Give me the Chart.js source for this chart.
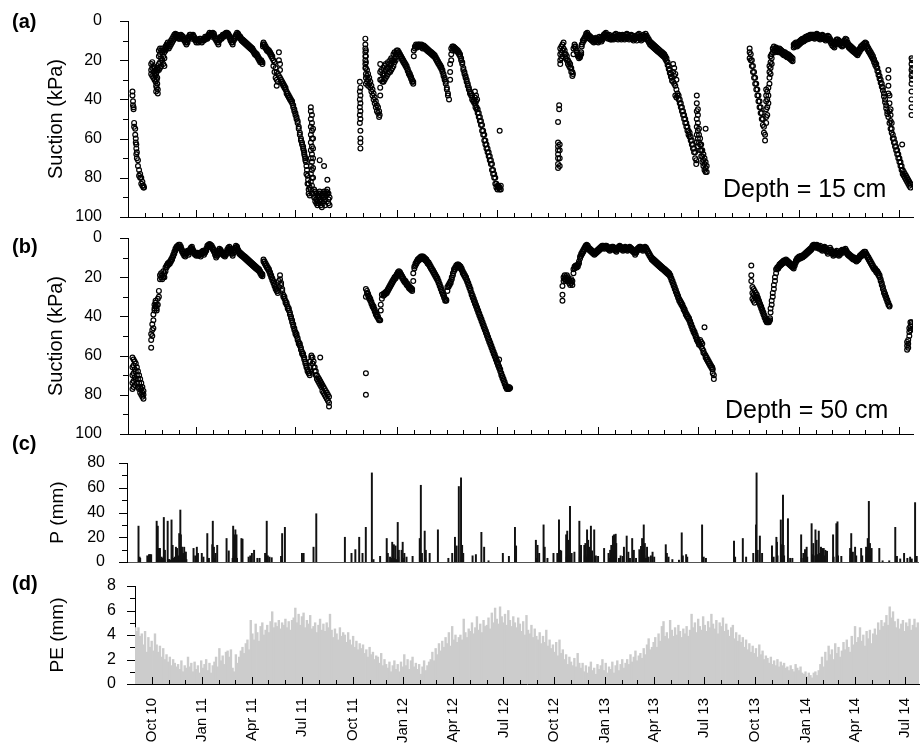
<!DOCTYPE html>
<html>
<head>
<meta charset="utf-8">
<script src="https://cdn.jsdelivr.net/npm/chart.js@4.4.1/dist/chart.umd.min.js"></script>
<style>
  body { margin: 0; background: #fff; }
  #wrap { position: relative; width: 920px; height: 743px; }
  #wrap canvas { position: absolute; left: 0; top: 0; }
</style>
</head>
<body>
<div id="wrap">
  <canvas id="panelA" width="920" height="743"></canvas>
  <canvas id="panelB" width="920" height="743"></canvas>
  <canvas id="panelC" width="920" height="743"></canvas>
  <canvas id="panelD" width="920" height="743"></canvas>
</div>
<script>
// x values are days counted from 1 Jan 2010

// suction at 15 cm, kPa: [day, reading, reading, ...]
const depth15 = [
  [250,36,38],[251,41,43],[252,44,45],[253,52,54],[255,55,58],[256,60,62],[257,63,65,68],[258,67,70],[260,71,74],[262,76,79],[264,78,80],[266,80,83],[268,82,84],[270,84,85],[271,85],
  [284,22,25,27],[286,21,24,28],[288,23,26,29],[290,24,27,30],[292,25,28,31],[293,27,33,36],[294,26,30,34],[295,25,29,32],[296,24,35,37],
  [298,15,18,22,25],[300,14,17,21,24],[302,15,19,23],[304,14,16,20],[306,15,18,22],[308,16,19,23],[310,13,15],[312,12,14],[314,11,13],[316,12,14],[318,11,13],[320,10,12],[322,9,11],[324,8,10],[326,7,9],[328,6.5,7.5],[330,7,8],[332,7,8],[334,8,9],[336,8,9],[338,7,8],[340,7.5,9],[342,8,9],[344,9,10],[346,10,11],[348,11,12],[350,10,11],[352,8,9],[354,7,8],[356,7,8],[358,8,9],[360,7,7.5],[362,8,9],[364,9,10],[366,10,11],[368,9.5,10],[370,10,11],[372,9,10],[374,9,10],[376,10,11],[378,9.5,10],[380,9,10],[382,8,9],[384,8,9],[386,8,9],[388,7,8],[390,6,7],[392,6.5,7.5],[394,7,8],[396,6,7],[398,6.5,7.5],[400,8,9],[402,9,10],[404,10,11],[406,11,12],[408,9,10],[410,8,9],[412,8,9],[414,7,8],[416,7,8],[418,6.5,7.5],[420,6,7],[422,6,7],[424,6.5,7.5],[426,7.5,8.5],[428,9,10],[430,10,11],[432,11,12],[434,9,10],[436,8,9],[438,7,8],[440,6,7],[442,6.5,7.5],[444,7.5,8.5],[446,8,9],[448,9,10],[450,9.5,10.5],[452,10,11],[454,10.5,11.5],[456,11,12],[458,11.5,12.5],[460,12,13],[462,12.5,13.5],[464,13,14],[466,13.5,14.5],[468,14,15],[470,15,16],[472,16,17],[474,16.5,17.5],[476,17,18],[478,18,19],[480,19,20],[482,20,21],[484,20,21],[486,21,22],
  [487,12,13],[488,11,12],[490,12,13],[492,13,14],[494,14,15],[496,14.5,15.5],[498,15,16],[500,16,17],[502,17,18],[504,18,19],[506,20,23],[508,21,26],[510,24,29],[512,26,30,33],[514,27,31],[516,28,16,20],[518,29,22,25],[520,30,31],[522,31,32],[524,32,33],[526,33,34],[528,34,35],[530,36,37],[532,37,38],[534,38,39],[536,39,40],[538,40,41],[540,41,42],[542,43,44],[544,45,46],[546,47,48],[548,49,50],[550,51,52],[552,54,55],[554,57,58],[556,60,61],[558,62,63],[560,64,65],[561,66],[562,67,68],[563,69],[564,70,71],[565,72],[566,74,78],[567,76],[568,79,83],[569,81],[570,83,86,88],[572,85,89],
  [574,44,46,50,54,58,62,66,70,74,78,82,86],[576,48,52,56,60,64,68,72,76,80,84,88],[578,55,60,65,70,75,80],
  [580,86,88,90],[582,87,90,92],[584,88,91,93],[586,89,92,94],[588,88,90,93],[590,87,89,92,71],[592,88,91,94],[594,89,92,95],[596,88,90,93],[598,87,90,92,74],[600,88,91,94],[602,87,89],[604,86,88,81],[606,88,91,93],[608,90,94],
  [663,31,36,40,44,48,52],[664,34,38,42,46,50,56,60,62,65],
  [673,9,12,14,16,18,20,22,24],[674,15,18,21,24,27,29,32],
  [676,25,28,31],[678,27,30,33],[680,29,32],[682,31,34],[684,33,36],[686,35,38],[688,37,40],[690,39,42],[692,41,44],[694,43,46],[696,44,47],[698,46,49],[699,48],
  [700,22,26,30,34,38],[702,25,30],[704,27,31],[706,24,28,31],[708,23,27,30],[710,22,25,29],[712,24,28],[714,21,24,27],[716,22,26],[718,20,23,26],[720,19,22,25],[722,20,24],[724,17,20,23],[726,16,19,21],[728,17,20],[730,15,17],[732,15,16],[734,16,17],
  [736,17,18],[738,18,19],[740,19,20],[742,20,21],[744,21,22],[746,22,23],[748,23,24],[750,24.5,25.5],[752,26,27],[754,27,28],[756,28.5,29.5],[758,30,31],[760,31,32],
  [761,18,15],[763,14,13],[765,13,12],[767,12.5,13.5],[769,12,13],[771,12,13],[773,12.5,13],[775,12,13],[777,13,14],[779,12.5,13.5],[781,13,14],[783,13.5,14.5],[785,14,15],[787,14.5,15.5],[789,15,16],[791,15.5,16.5],[793,16,17],[795,16.5,17.5],[797,17,18],[799,17.5,18.5],[801,18.5,19.5],[803,19.5,20.5],[805,20.5,21.5],[807,21.5,22.5],[809,22.5,23.5],[811,23.5,24.5],[813,25,26],[815,27,28],[817,29,30],[819,31,32],[821,34,35],[823,37,38],[825,40],
  [827,30,26,22],[829,20,17,14],[831,13,15],[833,13,14],[835,13.5,14.5],[837,14,15],[839,14.5,15.5],[841,15,16],[843,16,17],[845,17,18],[847,19,20],[849,21,22],[851,24,25],[853,26,27],[855,28,29],[857,30,31],[859,32,33],[861,34,35],[863,36,37],[865,37,38],[867,38,40],[869,40,41],[871,41,42],[872,36,39],[873,42,44],[874,38,41],[875,44,45],[876,40],[877,45,47],[879,47,49],[881,49,51],[883,51,53],[885,53,56],[887,56,58],[889,58,61],[891,61,63],[893,63,65],[895,65,67],[897,67,69],[899,69,71],[901,71,73],[903,73,76],[905,76,78],[907,78,80],[909,80,83],[911,83,85],[913,84,86],[915,84,85],[917,85,86,56],[919,84,86],
  [1023,51.5,62,64,66,68,70,73,75],[1025,43,45],[1026,63,66,70,74],
  [1027,14,17,20,22],[1029,13,16,19],[1031,12,15,18],[1033,11,14],[1035,15,17],[1037,17,19],[1039,18,20],[1041,20,22],[1043,21,23],[1045,22,24],[1047,24,26],[1049,26,28],[1050,27],
  [1051,17,14],[1053,13,12],[1055,13,14],[1057,15,16],[1059,17,18],[1061,18,19],[1063,18.5,17.5],[1065,17,16],[1066,12,13],[1068,10,11],[1070,9,10],[1072,8,9],[1074,6.5,7.5],[1076,6,7],
  [1078,7,8.5],[1080,7.5,9],[1082,8,9.5],[1084,8.5,10],[1086,9,10.5],[1088,9.5,11],[1090,9,10.5],[1092,8.5,10],[1094,9,10.5],[1096,9.5,11],[1098,8,9.5],[1100,8.5,10],[1102,9,10.5],[1104,8,9.5],[1106,7,8.5],[1108,6.5,8],[1110,6,7.5],[1112,7,8.5],[1114,7.5,9],[1116,7,8.5],[1118,8,9.5],[1120,8,9.5],[1122,7.5,9],[1124,8,9.5],[1126,7,8.5],[1128,6.5,8],[1130,7.5,9],[1132,8,9.5],[1134,7,8.5],[1136,7.5,9],[1138,8,9.5],[1140,7,8.5],[1142,7.5,9],[1144,8,9.5],[1146,7,8.5],[1148,6.5,8],[1150,7,8.5],[1152,8,9.5],[1154,7.5,9],[1156,7,8.5],[1158,7.5,9],[1160,8.5,10],[1162,8,9.5],[1164,7.5,9],[1166,8.5,10],[1168,7,8.5],[1170,6.5,8],[1172,7.5,9],[1174,8.5,10],[1176,8,9.5],[1178,7,8.5],[1180,7.5,9],[1182,6.5,8],[1184,7.5,9],[1186,8.5,10],[1188,9.5,11],[1190,10.5,12],[1192,11,12.5],[1194,11.5,13],[1196,12,13.5],[1198,12.5,14],[1200,13,14.5],[1202,13.5,15],[1204,14,15.5],[1206,14.5,16],
  [1208,15,16.5],[1210,15.5,17],[1212,16,17.5],[1214,16.5,18],[1216,17,18.5],[1218,18,19.5],[1220,19,20.5],[1222,21,22.5],[1224,23,24.5],[1226,25,26.5],[1228,27,28.5],[1230,29,30.5],[1232,31,22,26],[1234,32,24,28],[1236,33,27,38],[1238,35,30,39],
  [1240,37,38],[1242,38,40],[1244,40,42],[1246,42,44],[1248,44,46],[1250,46,48],[1252,48,50],[1254,50,52],[1256,52,54],[1258,54,56],[1260,56,58],[1262,57,59],[1264,59,61],[1266,61,63],[1268,63,65],[1270,65,67],[1272,67,70],[1274,71,73],
  [1275,38,42,46,50,54,58,62],[1277,45,48,52,56,60,64],[1279,55,58,62],[1281,60,63,66],[1283,63,66,69],[1285,66,69,72],[1287,68,71,74],[1289,70,73,76],[1291,72,75,77,55],[1293,74,77],
  [1371,14,16,19],[1373,17,20],[1375,20,23],[1377,23,26],[1379,26,29],[1381,29,32],[1383,32,35],[1385,35,38],[1387,38,41],[1389,41,44],[1391,44,47],[1393,47,50],[1395,50,53],[1397,54,57],[1399,58,61],
  [1401,35,38,41,45,49,52],[1403,36,40,44,48],[1405,34,38,42],
  [1407,32,29,26,23],[1409,27,24,21,18],[1411,22,19,17],[1413,16,14],[1415,13,15],[1417,14,16],[1419,13.5,15],[1421,14,15.5],[1423,14.5,16],[1425,14,15.5],[1427,14.5,16],[1429,15,16.5],[1431,15.5,17],[1433,16,17.5],[1435,16,17.5],[1437,16.5,18],[1439,17,18.5],[1441,17,18.5],[1443,17.5,19],[1445,18,19.5],[1447,18.5,20],[1449,19,20.5],
  [1451,12,13.5],[1453,11.5,13],[1455,11,12.5],[1457,11.5,13],[1459,11,12.5],[1461,10.5,12],[1463,10,11.5],[1465,9.5,11],[1467,9,10.5],[1469,9,10.5],[1471,8.5,10],[1473,8,9.5],[1475,8,9.5],[1477,7.5,9],[1479,7.5,9],[1481,7,8.5],[1483,7,8.5],[1485,7,8.5],[1487,7,8.5],[1489,7.5,9],[1491,7,8.5],[1493,6.5,8],[1495,7,8.5],[1497,7.5,9],[1499,8,9.5],[1501,7.5,9],[1503,7,8.5],[1505,7.5,9],[1507,8,9.5],[1509,8.5,10],[1511,8,9.5],[1513,7.5,9],[1515,8,9.5],[1517,9,10.5],[1519,10,11.5],[1521,11,12.5],[1523,11.5,13],[1525,12,13.5],[1527,10.5,12],[1529,9.5,11],[1531,9.5,11],[1533,10,11.5],[1535,10.5,12],[1537,11,12.5],[1539,11.5,13],[1541,11,12.5],[1543,10,11.5],[1545,9,10.5],[1547,9.5,11],[1549,11,12.5],[1551,12,13.5],[1553,12.5,14],[1555,13,14.5],[1557,13.5,15],[1559,14,15.5],[1561,14.5,16],[1563,15,16.5],[1565,15.5,17],[1567,16,17.5],[1569,15,16.5],[1571,14,15.5],[1573,13,14.5],[1575,12.5,14],[1577,12,13.5],[1579,11.5,13],[1581,11,12.5],[1583,11.5,13],[1585,13,14.5],[1587,14,15.5],[1589,15,16.5],[1591,16,17.5],[1593,17,18.5],[1595,18,19.5],[1597,19.5,21],[1599,21,22.5],[1601,22,23.5],[1603,24,25.5],[1605,26,27.5],[1607,28,29.5],[1609,30,31.5],[1611,32,33.5],[1613,34,35.5],[1615,37,38.5],[1617,40,41.5],[1619,43,44.5],[1621,46,47.5],
  [1623,49,25,29,33,37],[1625,52,38,42,46],[1627,55,45,48,51],[1629,57,52,55],[1631,58,60],[1633,60,62],[1635,62,64],[1637,64,66],[1639,66,68],[1641,68,70],[1643,70,72],[1645,72,74],[1647,74,76],[1648,63],[1649,76,78],[1651,77,79],[1653,78,80],[1655,79,81],[1657,80,82],[1659,81,83],[1661,82,84],[1663,83,85],
  [1665,19,22,25,28,32,36,40,44,48],[1666,20,24,27,30]
];

// suction at 50 cm, kPa: [day, reading, reading, ...]
const depth50 = [
  [250,61,66,70,74,77],[252,62,65,69,73,76],[254,63,67,71,75],[256,64,68,72],[258,66,70,74],[260,68,72,76],[262,70,74,77],[264,72,76,79],[266,74,77,80],[268,76,79,81],[270,78,80,82],
  [284,56,52,49],[286,50,47,44],[288,46,42,39],[290,37,34,36],[292,33,35,32],[294,34,36,37],[296,31,34],[298,27,30],[300,19,21],[302,18,20],[304,19,21],[306,17,20],[308,18,20],[310,15,17],[312,14,15],[314,13,14],[316,12.5,13.5],[318,12,13],[320,11,12],[322,10,11],[324,8.5,9.5],[326,7,8],[328,5.5,6.5],[330,4.5,5.5],[332,4,5],[334,3.5,4.5],[336,3.5,4.5],[338,4.5,5.5],[340,6,7],[342,7,8],[344,8,9],[346,8.5,9.5],[348,7,8],[350,6.5,7.5],[352,7.5,8.5],[354,6,7],[356,5,6],[358,4.5,5.5],[360,6,7],[362,7,8],[364,7.5,8.5],[366,8,9],[368,7.5,8.5],[370,8,9],[372,7.5,8.5],[374,8.5,9.5],[376,7,8],[378,6.5,7.5],[380,7.5,8.5],[382,6.5,7.5],[384,5.5,6.5],[386,4,5],[388,3.5,4.5],[390,3,4],[392,3.5,4.5],[394,4,5],[396,5,6],[398,6,7],[400,7.5,8.5],[402,9,10],[404,8,9],[406,6.5,7.5],[408,5.5,6.5],[410,6,7],[412,7,8],[414,7.5,8.5],[416,8,9],[418,8.5,9.5],[420,7.5,8.5],[422,6,7],[424,5,6],[426,4.5,5.5],[428,5.5,6.5],[430,7,8],[432,8,9],[434,6.5,7.5],[436,5,6],[438,4,5],[440,4.5,5.5],[442,6,7],[444,7,8],[446,7.5,8.5],[448,8,9],[450,8.5,9.5],[452,9,10],[454,9.5,10.5],[456,10,11],[458,10.5,11.5],[460,11,12],[462,11.5,12.5],[464,12,13],[466,12.5,13.5],[468,13,14],[470,13.5,14.5],[472,14,15],[474,14.5,15.5],[476,15,16],[478,15.5,16.5],[480,16,17],[482,17,18],[484,18,19],[486,18.5,19.5],
  [488,11,12],[490,12,13],[492,13,14],[494,14,15],[496,15,16],[498,16,17],[500,17.5,18.5],[502,19,20],[504,20.5,21.5],[506,22,23],[508,23.5,24.5],[510,25,26],[512,26,27],[514,27,28],[516,22,25],[518,19,21],[520,23,24],[522,26,27],[524,29,30],[526,30,31],[528,32,33],[530,33,34],[532,35,36],[534,36,37],[536,38,39],[538,40,41],[540,42,43],[542,44,45],[544,46,47],[546,48,49],[548,49,50],[550,51,52],[552,53,54],[554,54,55],[556,56,57],[558,58,59],[560,59,60],[562,61,62],[564,63,64],[566,65,66],[568,67,68],[570,68,69],[572,69,70],[573,66,63],[575,61,60],[577,61,64],[579,63,66],[581,66,68],[583,68,70],[585,70,72],[587,71,73],[589,72,74],[591,73,75,61],[593,74,76],[595,75,78],[597,76,79],[599,77,80],[601,78,81],[603,79,82],[605,80,83],[607,81,84,86],
  [674,26,30,69,80],[676,27,28],[678,28.5,29.5],[680,30,31],[682,31,32],[684,32.5,33.5],[686,34,35],[688,35,36],[690,36.5,37.5],[692,38,39],[694,39,40],[696,40,41],[698,41.5,42],[700,42],[701,37,34],[703,31,29],[706,28.5,29.5],[708,28,29],[710,27.5,28.5],[712,27,28],[714,26,27],[716,25,26],[718,24,25],[720,23,24],[722,22,23],[724,21,22],[726,20,21],[728,19.5,20.5],[730,18.5,19.5],[732,17.5,18.5],[734,17,18],[736,17.5,18.5],[738,18.5,19.5],[740,19.5,20.5],[742,20.5,21.5],[744,21.5,22.5],[746,22,23],[748,23,24],[750,23.5,24.5],[752,24.5,25.5],[754,25,26],[756,25.5,26.5],[758,26,27],
  [760,22,18],[762,14.5,15.5],[764,13,14],[766,12,13],[768,11,12],[770,10.5,11.5],[772,10,11],[774,9.5,10.5],[776,9.5,10.5],[778,9.5,10.5],[780,10,11],[782,10.5,11.5],[784,11,12],[786,12,13],[788,12.5,13.5],[790,13.5,14.5],[792,14.5,15.5],[794,15.5,16.5],[796,16.5,17.5],[798,17.5,18.5],[800,18.5,19.5],[802,19.5,20.5],[804,20.5,21.5],[806,22,23],[808,23.5,24.5],[810,25,26],[812,26.5,27.5],[814,28,29],[816,29.5,30.5],[818,31,32],[820,31.5,32],
  [822,27,25],[824,24,25],[826,23,24],[828,22,23],[830,20,21],[832,18,19],[834,16,17],[836,15,16],[838,14,15],[840,13.5,14.5],[842,13.5,14.5],[844,14,15],[846,14.5,15.5],[848,15.5,16.5],[850,17,18],[852,18,19],[854,19,20],[856,20,21],[858,21.5,22.5],[860,23,24],[862,24.5,25.5],[864,26,27],[866,28,29],[868,29.5,30.5],[870,31,32],[872,32.5,33.5],[874,34,35],[876,35.5,36.5],[878,37,38],[880,38.5,39.5],[882,40,41],[884,41.5,42.5],[886,43,44],[888,44.5,45.5],[890,46,47],[892,47.5,48.5],[894,49,50],[896,50.5,51.5],[898,52,53],[900,53.5,54.5],[902,55,56],[904,56.5,57.5],[906,58,59],[908,59.5,60.5],[910,61,62],[912,62.5,63.5],[914,64,65],[916,65.5,66.5,62],[918,67,68],[920,69,70],[922,70.5,71.5],[924,72,73],[926,73.5,74.5],[928,75,76],[930,76,77],[932,76.5,77],[934,77,76],[936,76.5],
  [1031,29,32,24.5],[1033,22,20],[1035,19,21],[1037,20,22],[1039,19,21],[1041,20,22],[1043,21,23],[1045,22,24],[1047,21,23],[1049,22,24],[1051,16,18],[1053,14.5,15.5],[1055,14,15],[1057,14,15],[1059,13.5,14.5],[1061,12,13],[1063,9.5,10.5],[1065,8,9],[1067,7,8],[1069,6,7],[1071,5,6],[1073,4,5],[1075,3.5,4.5],
  [1077,4,5],[1079,5,6],[1081,5.5,6.5],[1083,6,7],[1085,6.5,7.5],[1087,7,8],[1089,7.5,8.5],[1091,7,8],[1093,6.5,7.5],[1095,6,7],[1097,5.5,6.5],[1099,5,6],[1101,4.5,5.5],[1103,4,5],[1105,4,5],[1107,4.5,5.5],[1109,4,5],[1111,4,5],[1113,4.5,5.5],[1115,5,6],[1117,5.5,6.5],[1119,5,6],[1121,4.5,5.5],[1123,4.5,5.5],[1125,5,6],[1127,5.5,6.5],[1129,6,7],[1131,5,6],[1133,4.5,5.5],[1135,4,5],[1137,4.5,5.5],[1139,5,6],[1141,5.5,6.5],[1143,5,6],[1145,4.5,5.5],[1147,5,6],[1149,5.5,6.5],[1151,5,6],[1153,4.5,5.5],[1155,5,6],[1157,5.5,6.5],[1159,6,7],[1161,6.5,7.5],[1163,7.5,8.5],[1165,6.5,7.5],[1167,5.5,6.5],[1169,5,6],[1171,4.5,5.5],[1173,4.5,5.5],[1175,5,6],[1177,5.5,6.5],[1179,5,6],[1181,4.5,5.5],[1183,5,6],
  [1185,6,7],[1187,7,8],[1189,8,9],[1191,9,10],[1193,10,11],[1195,10.5,11.5],[1197,11,12],[1199,11.5,12.5],[1201,12,13],[1203,12.5,13.5],[1205,13,14],[1207,13.5,14.5],[1209,14,15],[1211,14.5,15.5],[1213,15,16],[1215,15.5,16.5],[1217,16,17],[1219,16.5,17.5],[1221,17,18],[1223,17.5,18.5],[1225,18,19],[1227,19,20],[1229,20.5,21.5],[1231,22,23],[1233,23.5,24.5],[1235,25,26],[1237,26.5,27.5],[1239,28,29],[1241,29.5,30.5],[1243,31,32],[1245,32,33],[1247,33,34],[1249,34,35],[1251,35.5,36.5],[1253,36.5,37.5],[1255,38,39],[1257,39,40],[1259,40,41],[1261,41,42],[1263,42.5,43.5],[1265,44,45],[1267,45.5,46.5],[1269,47,48],[1271,48,49],[1273,49.5,50.5],[1275,51,52],[1277,52,53],[1279,53.5,54.5],[1281,54.5,52],[1283,55.5,53],[1285,56.5,54],[1287,57.5,58.5],[1289,59,45.5],[1291,60,61],[1293,61,62],[1295,62,63],[1297,63,64],[1299,64,65],[1301,65,66],[1303,66,67],[1304,67,69],[1306,70,72],
  [1374,14,19,22],[1376,25,28,31],[1378,26,29,32],[1380,27,30,33],[1382,28,31],[1384,29,30],[1386,30.5,31.5],[1388,32,33],[1390,33.5,34.5],[1392,35,36],[1394,36.5,37.5],[1396,38,39],[1398,39.5,40.5],[1400,41,42],[1402,42,43],[1404,43,42],[1406,42.5,43],[1408,41,42],[1409,38,36],[1411,34,32],[1413,30,28],[1415,26,24],[1417,22,20],[1419,18,16],[1421,15,16],
  [1423,14.5,15.5],[1425,13.5,14.5],[1427,13,14],[1429,12.5,13.5],[1431,12,13],[1433,11.5,12.5],[1435,11.5,12.5],[1437,11,12],[1439,11.5,12.5],[1441,12,13],[1443,12.5,13.5],[1445,13,14],[1447,13.5,14.5],[1449,14,15],[1451,14.5,15.5],[1453,13,14],[1455,11.5,12.5],[1457,10.5,11.5],[1459,10,11],[1461,9.5,10.5],[1463,9.5,10.5],[1465,9,10],[1467,9,10],[1469,8.5,9.5],[1471,8,9],[1473,7.5,8.5],[1475,7,8],[1477,6.5,7.5],[1479,6,7],[1481,5.5,6.5],[1483,5,6],[1485,4,5],[1487,3.5,4.5],[1489,3.5,4.5],[1491,4,5],[1493,3.5,4.5],[1495,4,5],[1497,4.5,5.5],[1499,4,5],[1501,5,6],[1503,5.5,6.5],[1505,5,6],[1507,4.5,5.5],[1509,5,6],[1511,6,7],[1513,7,8],[1515,6,7],[1517,5,6],[1519,6,7],[1521,7,8],[1523,8,9],[1525,7.5,8.5],[1527,7,8],[1529,6.5,7.5],[1531,7.5,8.5],[1533,8,9],[1535,7.5,8.5],[1537,6.5,7.5],[1539,6,7],[1541,6.5,7.5],[1543,6,7],[1545,5.5,6.5],[1547,6.5,7.5],[1549,7.5,8.5],[1551,8,9],[1553,8.5,9.5],[1555,9,10],[1557,9.5,10.5],[1559,10,11],[1561,10,11],[1563,10.5,11.5],[1565,11,12],[1567,10.5,11.5],[1569,10,11],[1571,9,10],[1573,8.5,9.5],[1575,8,9],[1577,7.5,8.5],[1579,7,8],[1581,7,8],[1583,8,9],[1585,9,10],[1587,10,11],[1589,11,12],[1591,12,13],[1593,13,14],[1595,14,15],[1597,15,16],[1599,15.5,16.5],[1601,16.5,17.5],[1603,17,18],[1605,18,19],[1607,19,20],[1609,21,22],[1611,23,24],[1613,25,26],[1615,27,28],[1617,28.5,29.5],[1619,30,31],[1621,31.5,32.5],[1623,33,34],[1625,34.5,35],
  [1657,55,57,53],[1659,52,54,56],[1661,48,50,46],[1663,45,43,47],[1665,43,44]
];

// daily rainfall, mm: [day, P]
const rainfall = [
  [249,29],[250,2],[251,4],[252,3],[265,5],[268,6],[270,6],[272,6],[282,33],[283,2],[284,29],[285,3],[286,11],[287,1.5],[288,11],[289,2],[291,4],[293,3],[295,36],[296,2],[297,9.5],[302,33],[304,2],[305,2],[307,1.5],[309,34],[311,13.5],[313,3],[315,4],[317,12],[319,11],[320,2],[321,5],[322,3],[323,23],[324,4],[325,42],[326,22],[327,5],[328,12],[329,3],[330,7],[331,2.5],[332,12],[333,4],[334,8],[335,8],[336,2],
  [349,11],[352,5],[355,12],[357,7],[364,7],[367,4],[374,23],[377,3],[383,14],[384,33],[385,5],[386,12],[387,3],[389,7],[392,13.5],[409,19],[413,9],[420,3],[421,29],[422,5],[423,22],[424,20],[425,26],[426,4],[427,22],[428,3],[436,19],[438,18.5],[449,4],[452,5],[455,7],[459,9.5],[465,3],[469,3],[479,7],[482,33],[483,3],[484,5],[487,4],[491,3.5],[508,4.6],[510,23],[515,28],[546,7],[549,7],[567,12],[572,39],
  [624,20],[636,7],[643,10],[650,20],[656,7],[662,28],[673,72],[676,2],[688,4.6],[700,19],[702,7],[706,4],[709,3],[710,16],[711,4],[713,14],[714,3],[716,13],[718,2],[720,32],[721,4],[722,9.5],[727,9.5],[729,16],[730,3],[732,7],[736,4],[747,4.6],[760,19],[761,4],[762,62],[763,3],[764,7],[769,25],[770,3],[771,9.5],[778,7],[793,26],[812,3],[819,7],[824,20],[827,13],[831,61],[835,68],[836,4],[837,13.5],[839,7],[856,5],[862,6],[872,24],[877,12],[885,1],[911,7],[922,4.6],[933,28],[935,13],
  [971,17.6],[972,3],[974,13.5],[977,7],[985,30],[987,12],[992,3],[1003,7],[1010,7],[1013,34],[1014,3],[1015,9.5],[1017,9],[1026,22],[1027,4],[1028,25],[1030,17.6],[1031,5],[1033,45],[1034,4],[1036,7],[1041,8],[1050,33],[1051,4],[1053,13.5],[1059,13.5],[1060,5],[1061,15],[1062,4],[1064,26],[1065,6],[1066,17.6],[1067,3],[1068,12],[1069,5],[1071,29],[1073,9],[1077,26],[1078,4],[1080,5],[1084,4.6],[1095,11],[1103,7],[1105,3],[1106,9.5],[1107,5],[1108,13.5],[1109,6],[1111,21],[1112,4],[1113,22],[1114,8],[1116,22.5],[1117,15],[1122,3],[1125,5],[1129,4.6],[1131,12],[1136,21],[1139,8],[1142,3],[1146,19],[1149,9.5],[1153,3],[1159,10],[1162,12.7],[1163,4],[1164,19],[1167,30],[1168,5],[1169,15],[1171,3],[1173,12],[1176,4],[1180,5],[1183,8],[1186,4],
  [1207,14],[1209,7],[1212,4],[1219,2],[1231,1.5],[1236,23.6],[1238,5],[1244,6],[1246,4],[1273,30],[1276,4],[1280,3],[1331,17],[1333,4],[1347,19],[1353,4],[1366,7],[1371,30],[1372,72],[1373,6],[1374,9.5],[1378,21],[1382,7],[1400,13],[1403,4],[1408,20],[1409,16],[1410,5],[1416,34],[1417,8],[1418,14],[1419,6],[1420,54],[1421,13.5],[1422,5],[1429,35],[1433,3],[1437,3],
  [1453,22],[1454,3],[1457,7],[1460,10],[1463,12],[1464,4],[1472,31],[1473,6],[1475,15],[1476,5],[1479,26],[1480,8],[1481,17.6],[1482,6],[1485,25],[1486,7],[1489,12],[1490,6],[1491,11],[1494,11],[1495,5],[1497,9.5],[1500,8.7],[1511,22],[1512,4],[1517,31],[1518,6],[1519,32.5],[1520,5],[1526,4.6],[1542,11],[1543,5],[1544,23],[1547,8],[1551,12],[1553,5],[1562,11],[1564,5],[1571,12],[1572,6],[1574,19],[1575,8],[1576,49],[1577,10],[1578,15],[1579,5],[1581,11],[1595,11],[1601,1],[1613,1],[1624,28],[1627,4.6],[1633,2.5],[1640,7],[1646,3],[1651,4],[1654,2.5],[1660,48],[1663,4.6]
];

// potential evaporation, mm, one value every peStep days from peStart
const peStart = 243;
const peStep = 3;
const potEvap = [
  4.6,4.3,4.6,3.9, 4.1,3.2,4.3,2.6, 3.8,3.0,3.5,2.7,4.1,3.2, 2.6,3.1,2.2,2.9,2.0,2.4, 1.8,2.2,1.5,2.0,1.7,1.4, 1.6,1.2,1.9,1.0,1.5,1.3,
  2.2,1.4,1.7,1.0,1.8,1.2,1.5,0.9, 1.9,1.3,1.6,2.0,1.1,1.7,0.9,1.5, 1.8,2.2,1.4,2.9,1.9,2.3,1.6,2.6, 2.7,2.2,2.8,1.3, 1.0,2.4,1.7,2.2,
  2.7,3.0,2.5,3.3,3.6,2.8, 5.2,4.1, 3.6,4.9,4.2,3.5,4.7,5.0,4.0,4.4, 4.8,4.2,5.1,5.9,4.6,5.0, 4.7,5.2,4.5,5.0,4.8,5.3,4.6,5.1,4.4,5.2,
  5.4,6.2,5.0,5.7, 4.8,5.5,5.8,4.6,5.2,4.9,5.6,4.5, 4.7,5.0,4.2,4.8,5.3,4.4,4.9,4.3,5.0,4.6,5.7, 4.4,3.8,4.5,4.1,3.6,4.6,3.9,4.2,
  4.0,3.4,4.2,3.6,3.2,3.9,3.0,3.5,2.8,3.3, 2.9,3.2,2.5,2.8,2.2,3.0,2.4,2.6,2.0,2.3, 2.2,1.7,2.5,1.5,2.0,1.6, 1.3,1.8,1.0,1.5,1.9,1.2,1.6,1.0,1.8,1.4,
  2.4,1.5,2.0,1.2,1.9,2.2,1.4,1.7, 1.2,1.6,0.8,1.4,1.9,1.1,1.5,1.8, 2.0,2.6,1.9,2.9,2.4,3.3,2.7,3.5, 3.0,3.8,3.3,4.2,3.1,4.7,3.6,4.0,3.4,3.8,
  4.0,3.6,5.3,4.2,3.8,4.5, 4.3,5.0,4.1,4.6,5.5,4.4,4.9,4.2,5.2,4.7, 4.8,5.4,4.5,5.8,5.0,6.2,5.3,4.9,6.3,5.5, 5.0,5.7,4.8,6.0,5.2,4.7,5.5,5.0,4.6,5.4,
  4.9,4.3,5.1,4.0,5.6,4.4,4.1,4.8,3.8,4.5,3.9, 3.6,4.2,3.3,3.9,3.4,4.4,3.1,3.6,2.9,3.2, 2.6,3.4,2.3,3.6,2.5,2.8, 2.0,2.4,1.6,2.2,1.8,1.5,2.1,1.4,2.5,1.7,
  1.3,1.7,1.0,1.5,0.9,1.4,1.8,1.1,1.3,0.8,1.6,1.2, 1.5,2.0,1.1,1.7,0.9,1.4, 1.2,1.8,0.9,1.5,1.9,1.1,1.6,2.0,1.3,1.7, 2.0,1.6,2.4,1.8,2.2,2.7,1.9,2.3,
  2.5,2.1,2.9,2.4,3.2,3.7,2.8,3.0, 3.4,3.8,3.0,4.1,3.5,4.7,5.1,3.9, 4.2,3.7,5.2,4.4,3.9,4.6,4.0,4.8, 4.3,3.8,4.5,4.1,4.7,3.9,4.4,5.7,
  4.6,5.0,4.2,5.3,4.7,4.4,5.5,4.8,4.3,5.1,4.6,5.7,4.9, 4.5,5.2,4.1,5.0,4.7,5.4,4.3,4.9, 4.4,3.9,4.6,4.8,3.7,4.2,3.5,4.0, 3.4,3.8,3.0,3.6,2.8,3.3,2.6,3.1,
  2.5,2.9,2.2,3.2,2.4,2.7,2.0,2.3, 2.1,1.7,2.2,1.6,1.9,1.5,2.0,1.4,1.8,1.5,1.7,1.3, 1.4,1.1,1.5,1.2,1.0,1.6,1.3,1.1,1.4,0.9, 0.8,1.0,0.6,0.9,0.7,0.5,0.9,1.0,0.7,1.1,
  1.6,2.2,1.4,2.6,1.9,3.1, 2.4,2.8,2.0,3.3,2.5,3.0,2.2,2.7,3.4, 2.8,3.6,3.0,2.6,3.9,3.2,4.7,3.4,3.8,4.6, 3.5,4.0,3.1,4.3,3.7,4.4,3.3,4.1,
  4.5,4.0,5.0,4.4,5.2,4.7, 5.0,5.6,4.8,6.3,5.4,5.9, 5.1,4.6,5.3,4.5,4.9,5.2,4.3,5.0,4.7,5.3,4.4,4.8,5.3,4.6,5.0
];

// quarter tick labels of panel (d)
const quarterLabels = ['Oct 10','Jan 11','Apr 11','Jul 11','Oct 11','Jan 12','Apr 12','Jul 12',
  'Oct 12','Jan 13','Apr 13','Jul 13','Oct 13','Jan 14','Apr 14','Jul 14'];

const FONT = "'Liberation Sans', Arial, sans-serif";
Chart.defaults.font.family = FONT;
Chart.defaults.color = '#000';

const EPOCH = Date.UTC(2010, 0, 1);
const dayOf = (y, m) => (Date.UTC(y, m, 1) - EPOCH) / 864e5;
const MON = {Jan: 0, Apr: 3, Jul: 6, Oct: 9};
const quarterDays = quarterLabels.map(s => { const [m, y] = s.split(' '); return dayOf(2000 + Number(y), MON[m]); });

function monthTicks(lo, hi, isMajor) {
  const major = [], minor = [];
  for (let y = 2010; y <= 2014; y++) {
    for (let m = 0; m < 12; m++) {
      const d = dayOf(y, m);
      if (d <= lo + 3 || d >= hi) continue;
      (isMajor(m) ? major : minor).push(d);
    }
  }
  return {major, minor};
}

const toPoints = rows => rows.flatMap(r => r.slice(1).map(v => ({x: r[0], y: v})));

// tick marks: x ticks point up into the plot, y ticks point out to the left
const tickMarks = {
  id: 'tickMarks',
  afterDraw(chart, args, o) {
    const {ctx, chartArea: a} = chart;
    const x = chart.scales.x, y = chart.scales.y;
    ctx.save();
    ctx.strokeStyle = '#000';
    ctx.lineWidth = 1;
    ctx.beginPath();
    const xt = (list, len) => list.forEach(v => {
      const px = Math.round(x.getPixelForValue(v)) + 0.5;
      ctx.moveTo(px, a.bottom); ctx.lineTo(px, a.bottom - len);
    });
    const yt = (list, len) => list.forEach(v => {
      const py = Math.round(y.getPixelForValue(v)) + 0.5;
      ctx.moveTo(a.left, py); ctx.lineTo(a.left - len, py);
    });
    if (o.x) { xt(o.x.major, 7); xt(o.x.minor, 4); }
    yt(o.yMajor, 8);
    yt(o.yMinor, 5);
    ctx.stroke();
    ctx.restore();
  }
};

const panelNotes = {
  id: 'panelNotes',
  afterDraw(chart, args, o) {
    const ctx = chart.ctx;
    ctx.save();
    ctx.fillStyle = '#000';
    ctx.textAlign = 'left';
    ctx.textBaseline = 'alphabetic';
    o.items.forEach(it => { ctx.font = it.font; ctx.fillText(it.text, it.x, it.y); });
    ctx.restore();
  }
};

function panel(id, p) {
  const W = 920, H = 743;
  const xHeight = p.xHeight || 0;
  return new Chart(document.getElementById(id), {
    type: p.type,
    data: {datasets: [p.dataset]},
    options: {
      responsive: false,
      animation: false,
      events: [],
      layout: {padding: {left: 0, top: p.area.top, right: W - p.area.right, bottom: H - p.area.bottom - xHeight}},
      plugins: {
        legend: {display: false},
        tooltip: {enabled: false},
        tickMarks: {x: p.xMarks, yMajor: p.yMajor, yMinor: p.yMinor},
        panelNotes: {items: p.notes}
      },
      scales: {
        x: Object.assign({
          type: 'linear', min: p.xRange[0], max: p.xRange[1], offset: false,
          border: {display: true, color: p.xBorder || '#000', width: 1},
          grid: {display: false, offset: false},
          ticks: {display: false},
          afterFit: s => { s.height = xHeight; s.paddingLeft = 0; s.paddingRight = 0; }
        }, p.xExtra || {}),
        y: {
          type: 'linear', min: p.yRange[0], max: p.yRange[1], reverse: !!p.reverse,
          border: {display: true, color: '#000', width: 1},
          grid: {display: false},
          ticks: {stepSize: p.yStep, font: {size: 16}, color: '#000', padding: p.yPad},
          title: {display: true, text: p.yTitle, color: '#000', font: {size: p.titleSize}, padding: {top: p.titlePad, bottom: 0}},
          afterFit: s => { s.width = p.area.left; s.paddingTop = 0; s.paddingBottom = 0; }
        }
      }
    },
    plugins: [tickMarks, panelNotes]
  });
}

const rangeAB = [241.9, 1667.7];
const rangeC = [228.1, 1665.3];
const rangeD = [242.7, 1667.2];
const suctionTicksMajor = [0, 20, 40, 60, 80, 100];
const suctionTicksMinor = [10, 30, 50, 70, 90];
const halfYear = m => m === 0 || m === 6;

const suctionStyle = {
  pointRadius: 2.4, pointBorderWidth: 1.2,
  pointBorderColor: '#000', pointBackgroundColor: 'rgba(0,0,0,0)', showLine: false
};

panel('panelA', {
  type: 'scatter',
  dataset: Object.assign({data: toPoints(depth15)}, suctionStyle),
  area: {left: 128, top: 21, right: 913, bottom: 217},
  xRange: rangeAB, yRange: [0, 100], reverse: true, yStep: 20, yPad: 18,
  yTitle: 'Suction (kPa)', titleSize: 20, titlePad: 44,
  xMarks: monthTicks(rangeAB[0], rangeAB[1], halfYear),
  yMajor: suctionTicksMajor, yMinor: suctionTicksMinor,
  notes: [
    {text: '(a)', x: 12, y: 28, font: 'bold 20px ' + FONT},
    {text: 'Depth = 15 cm', x: 723, y: 197, font: '25px ' + FONT}
  ]
});

panel('panelB', {
  type: 'scatter',
  dataset: Object.assign({data: toPoints(depth50)}, suctionStyle),
  area: {left: 128, top: 238, right: 913, bottom: 434},
  xRange: rangeAB, yRange: [0, 100], reverse: true, yStep: 20, yPad: 18,
  yTitle: 'Suction (kPa)', titleSize: 20, titlePad: 44,
  xMarks: monthTicks(rangeAB[0], rangeAB[1], halfYear),
  yMajor: suctionTicksMajor, yMinor: suctionTicksMinor,
  notes: [
    {text: '(b)', x: 12, y: 253, font: 'bold 20px ' + FONT},
    {text: 'Depth = 50 cm', x: 725, y: 418, font: '25px ' + FONT}
  ]
});

panel('panelC', {
  type: 'bar',
  dataset: {
    data: rainfall.map(r => ({x: r[0], y: r[1]})),
    backgroundColor: '#111', borderWidth: 0, barThickness: 1.3, grouped: false
  },
  area: {left: 127, top: 463, right: 918, bottom: 562},
  xRange: rangeC, yRange: [0, 80], yStep: 20, yPad: 14, xBorder: '#555',
  yTitle: 'P (mm)', titleSize: 19, titlePad: 46,
  yMajor: [0, 20, 40, 60, 80], yMinor: [10, 30, 50, 70],
  notes: [{text: '(c)', x: 12, y: 450, font: 'bold 20px ' + FONT}]
});

panel('panelD', {
  type: 'bar',
  dataset: {
    data: potEvap.map((v, i) => ({x: peStart + i * peStep, y: v})),
    backgroundColor: '#cccccc', borderWidth: 0, barThickness: 1.75, grouped: false
  },
  area: {left: 135, top: 586, right: 919, bottom: 684},
  xHeight: 59,
  xRange: rangeD, yRange: [0, 8], yStep: 2, yPad: 11,
  yTitle: 'PE (mm)', titleSize: 19, titlePad: 46,
  xMarks: monthTicks(rangeD[0], rangeD[1], m => m % 3 === 0),
  yMajor: [0, 2, 4, 6, 8], yMinor: [1, 3, 5, 7],
  xExtra: {
    afterBuildTicks: s => { s.ticks = quarterDays.map(v => ({value: v})); },
    ticks: {
      display: true, autoSkip: false, maxRotation: 90, minRotation: 90,
      font: {size: 15}, color: '#000', padding: 6,
      callback: (v, i) => quarterLabels[i]
    }
  },
  notes: [{text: '(d)', x: 12, y: 590, font: 'bold 20px ' + FONT}]
});
</script>
</body>
</html>
